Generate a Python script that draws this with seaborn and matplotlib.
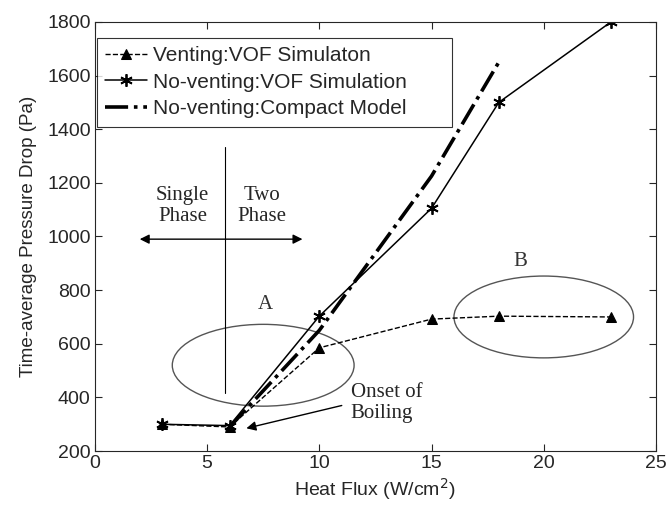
import matplotlib
matplotlib.use("Agg")
import matplotlib.pyplot as plt
from matplotlib.patches import Ellipse
import seaborn as sns
import numpy as np

# data
flux_venting = [3, 6, 10, 15, 18, 23]
dp_venting = [300, 290, 585, 692, 703, 700]

flux_novent = [3, 6, 10, 15, 18, 23]
dp_novent = [300, 295, 703, 1105, 1500, 1800]

flux_model = [6, 10, 15, 18]
dp_model = [290, 650, 1225, 1650]

sns.set_style("ticks")
plt.rcParams['font.family'] = ['Liberation Sans', 'DejaVu Sans']
serif = ['Liberation Serif', 'DejaVu Serif']

fig, ax = plt.subplots(figsize=(6.68, 5.08), dpi=100)
fig.subplots_adjust(left=0.142, right=0.982, top=0.957, bottom=0.112)

asterisk = (6, 2, 0)
sns.lineplot(x=flux_venting, y=dp_venting, ax=ax, color='black', linestyle='--',
             linewidth=1.0, marker='^', markersize=7, markeredgecolor='black',
             label='Venting:VOF Simulaton')
sns.lineplot(x=flux_novent, y=dp_novent, ax=ax, color='black', linestyle='-',
             linewidth=1.1, marker=asterisk, markersize=9, markeredgewidth=1.3,
             markeredgecolor='black', label='No-venting:VOF Simulation')
sns.lineplot(x=flux_model, y=dp_model, ax=ax, color='black', linestyle='-.',
             linewidth=2.6, label='No-venting:Compact Model')

ax.set_xlim(0, 25)
ax.set_ylim(200, 1800)
ax.set_xticks(np.arange(0, 26, 5))
ax.set_yticks(np.arange(200, 1801, 200))
ax.tick_params(direction='in', top=True, right=True, labelsize=14, length=5, pad=3)
for s in ax.spines.values():
    s.set_linewidth(0.8)
ax.set_xlabel('Heat Flux (W/cm$^2$)', fontsize=14, labelpad=3)
ax.set_ylabel('Time-average Pressure Drop (Pa)', fontsize=13.5, labelpad=7)

# legend box stretched to the width used in the reference
leg = ax.legend(loc='upper left', bbox_to_anchor=(0.003, 0.0, 0.633, 0.963),
                mode='expand', fontsize=15, handlelength=2.0, frameon=True,
                fancybox=False, borderpad=0.4, labelspacing=0.37,
                handletextpad=0.3, borderaxespad=0)
leg.get_frame().set_edgecolor('black')
leg.get_frame().set_linewidth(0.8)

# phase boundary annotation
ax.plot([5.8, 5.8], [415, 1335], color='black', linewidth=0.8)
ax.annotate('', xy=(2.0, 990), xytext=(9.25, 990),
            arrowprops=dict(arrowstyle='<|-|>', color='black', lw=1.0,
                            mutation_scale=14, shrinkA=0, shrinkB=0))
ax.text(3.9, 1115, 'Single\nPhase', ha='center', va='center', fontsize=15,
        family=serif, linespacing=1.15)
ax.text(7.45, 1115, 'Two\nPhase', ha='center', va='center', fontsize=15,
        family=serif, linespacing=1.15)

# highlighted regions
ax.add_patch(Ellipse((7.5, 520), 8.1, 305, fill=False, edgecolor='#555555', lw=1.0))
ax.add_patch(Ellipse((20.0, 700), 8.0, 305, fill=False, edgecolor='#555555', lw=1.0))
ax.text(7.6, 745, 'A', ha='center', va='center', fontsize=15, family=serif, color='#333333')
ax.text(18.95, 905, 'B', ha='center', va='center', fontsize=15, family=serif, color='#333333')

ax.annotate('', xy=(6.75, 285), xytext=(11.0, 370),
            arrowprops=dict(arrowstyle='-|>', color='black', lw=1.0,
                            mutation_scale=14, shrinkA=0, shrinkB=0))
ax.text(11.4, 378, 'Onset of\nBoiling', ha='left', va='center', fontsize=15,
        family=serif, linespacing=1.15)

fig.savefig('out.png', dpi=100)
